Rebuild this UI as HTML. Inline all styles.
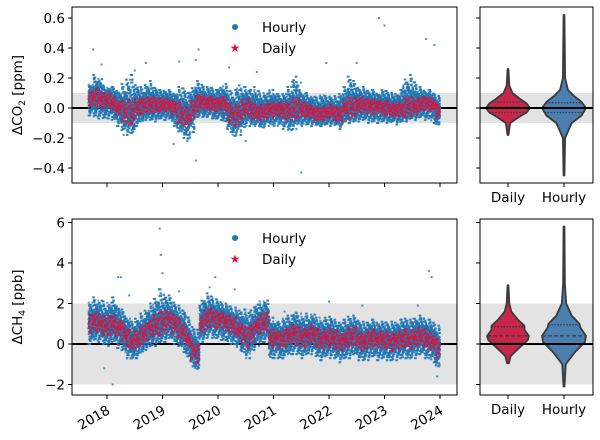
<!DOCTYPE html>
<html><head><meta charset="utf-8"><style>
body{margin:0;background:#fff}
svg{display:block;font-family:"DejaVu Sans","Liberation Sans",sans-serif}
</style></head><body>
<svg id="c" width="600" height="440" viewBox="0 0 600 440"></svg>
<script>
// ---- data (monthly, Sep 2017 .. Dec 2023) ----
const startYear = 2017 + 8/12;
const co2Daily = [0.06,0.07,0.06,0.05,
 0.05,0.03,0.0,-0.02,-0.03,-0.04,0.0,0.01,0.02,0.02,0.02,0.02,
 0.02,0.02,0.0,-0.03,-0.05,-0.06,-0.02,0.03,0.04,0.03,0.03,0.02,
 0.03,0.02,-0.03,-0.05,-0.04,-0.01,0.01,-0.02,-0.03,-0.03,-0.02,-0.01,
 -0.01,-0.01,-0.02,-0.02,-0.01,0.0,-0.01,-0.02,-0.03,-0.04,-0.04,-0.03,
 -0.02,-0.04,-0.04,0.0,0.0,0.01,0.02,0.02,0.01,0.01,0.01,0.0,
 0.0,-0.01,-0.01,-0.01,0.0,0.01,0.01,0.02,0.03,0.03,0.02,-0.02];
const co2Hi = [0.16,0.22,0.2,0.15,
 0.14,0.14,0.12,0.16,0.2,0.22,0.16,0.14,0.16,0.18,0.14,0.12,
 0.12,0.12,0.1,0.14,0.14,0.1,0.14,0.18,0.16,0.14,0.14,0.12,
 0.14,0.16,0.12,0.12,0.16,0.14,0.12,0.14,0.12,0.1,0.1,0.12,
 0.1,0.09,0.1,0.14,0.22,0.17,0.1,0.1,0.08,0.07,0.09,0.08,
 0.08,0.08,0.1,0.14,0.22,0.18,0.14,0.14,0.12,0.12,0.1,0.12,
 0.12,0.1,0.1,0.12,0.2,0.22,0.18,0.14,0.12,0.12,0.1,0.08];
const co2Lo = [-0.05,-0.07,-0.07,-0.08,
 -0.07,-0.09,-0.12,-0.16,-0.18,-0.18,-0.12,-0.1,-0.08,-0.09,-0.09,-0.08,
 -0.08,-0.08,-0.12,-0.17,-0.2,-0.22,-0.16,-0.07,-0.06,-0.07,-0.07,-0.08,
 -0.08,-0.1,-0.16,-0.2,-0.18,-0.14,-0.12,-0.12,-0.12,-0.14,-0.12,-0.12,
 -0.12,-0.12,-0.14,-0.16,-0.14,-0.12,-0.12,-0.12,-0.12,-0.12,-0.12,-0.12,
 -0.12,-0.12,-0.14,-0.1,-0.1,-0.1,-0.09,-0.09,-0.1,-0.1,-0.1,-0.1,
 -0.1,-0.1,-0.11,-0.1,-0.09,-0.08,-0.08,-0.07,-0.08,-0.08,-0.1,-0.12];
const ch4Daily = [1.0,1.1,1.0,0.9,
 0.9,1.0,0.8,0.6,0.3,0.1,0.2,0.4,0.6,0.8,0.9,1.0,
 1.1,1.2,1.0,0.8,0.6,0.2,-0.3,-0.5,1.0,1.2,1.3,1.2,
 1.2,1.1,1.0,0.9,0.7,0.5,0.3,0.6,0.9,1.0,1.1,0.3,
 0.3,0.2,0.3,0.4,0.5,0.4,0.3,0.4,0.5,0.3,0.2,0.3,
 0.3,0.2,0.1,0.2,0.3,0.4,0.2,0.1,0.2,0.3,0.2,0.2,
 0.2,0.1,0.2,0.2,0.3,0.2,0.3,0.4,0.3,0.2,0.1,-0.2];
const ch4Hi = [2.1,2.3,2.2,2.1,
 2.1,2.3,1.9,1.7,1.3,1.1,1.3,1.5,1.7,2.0,2.3,2.7,
 2.5,2.4,2.1,1.9,1.7,1.3,0.9,0.7,2.2,2.5,2.4,2.2,
 2.1,2.0,1.9,1.8,1.7,1.7,1.6,1.8,2.0,2.1,2.2,1.3,
 1.1,1.1,1.3,1.4,1.6,1.5,1.4,1.5,1.5,1.3,1.2,1.3,
 1.4,1.2,1.1,1.2,1.4,1.4,1.2,1.1,1.1,1.2,1.1,1.1,
 1.1,1.1,1.1,1.2,1.3,1.2,1.3,1.4,1.3,1.2,1.1,0.9];
const ch4Lo = [0.0,0.1,0.1,-0.1,
 -0.1,0.0,-0.2,-0.4,-0.7,-0.8,-0.7,-0.5,-0.3,-0.2,-0.1,0.0,
 0.1,0.2,0.0,-0.2,-0.4,-0.7,-1.1,-1.3,0.1,0.2,0.3,0.2,
 0.2,0.1,0.0,-0.1,-0.3,-0.5,-0.7,-0.4,-0.1,0.0,0.1,-0.8,
 -0.7,-0.8,-0.7,-0.6,-0.5,-0.6,-0.7,-0.6,-0.5,-0.7,-0.8,-0.7,
 -0.7,-0.8,-0.9,-0.8,-0.7,-0.6,-0.8,-0.9,-0.8,-0.7,-0.8,-0.8,
 -0.8,-0.9,-0.8,-0.8,-0.7,-0.8,-0.7,-0.6,-0.7,-0.8,-0.9,-1.2];
const co2Outliers = [[2017.75,0.39],[2017.9,0.29],[2018.5,0.25],[2018.7,0.3],[2019.3,0.31],[2019.6,0.32],[2019.65,0.39],[2019.2,-0.24],[2019.6,-0.35],[2020.5,-0.22],[2020.2,0.27],[2021.5,-0.43],[2021.95,0.3],[2022.9,0.6],[2023.0,0.55],[2023.75,0.46],[2023.9,0.42],[2018.3,-0.18],[2019.45,-0.22],[2020.7,0.24],[2022.5,0.3]];
const ch4Outliers = [[2017.95,-1.2],[2018.1,-2.0],[2018.2,3.3],[2018.25,3.3],[2018.95,5.7],[2018.97,4.4],[2019.0,3.5],[2019.95,3.3],[2019.85,2.8],[2020.3,2.7],[2022.0,2.1],[2022.6,1.9],[2023.6,1.9],[2023.8,3.6],[2023.85,3.3],[2023.95,-1.6],[2020.8,1.8],[2021.2,1.6],[2018.4,2.4],[2019.3,2.6]];
const xTickYears = [2018,2019,2020,2021,2022,2023,2024];
const co2Ticks = [-0.4,-0.2,0.0,0.2,0.4,0.6];
const co2TickLabels = ["\u22120.4","\u22120.2","0.0","0.2","0.4","0.6"];
const ch4Ticks = [-2,0,2,4,6];
const ch4TickLabels = ["\u22122","0","2","4","6"];
const violinCats = ["Daily","Hourly"];
const co2ViolinDaily = [[-0.18,0.02],[-0.1,0.1],[-0.06,0.5],[-0.03,0.85],[0.0,1.0],[0.03,0.85],[0.06,0.55],[0.1,0.2],[0.15,0.06],[0.26,0.02]];
const co2ViolinHourly = [[-0.45,0.02],[-0.2,0.05],[-0.1,0.35],[-0.05,0.8],[0.0,1.0],[0.04,0.8],[0.08,0.45],[0.12,0.18],[0.2,0.05],[0.62,0.02]];
const co2ViolinQ = [[-0.03,0.005,0.04],[-0.03,0.002,0.035]];
const ch4ViolinDaily = [[-0.95,0.04],[-0.6,0.12],[-0.2,0.5],[0.2,0.9],[0.4,0.95],[0.7,0.75],[0.9,0.75],[1.2,0.45],[1.6,0.15],[2.0,0.06],[2.9,0.02]];
const ch4ViolinHourly = [[-2.1,0.02],[-1.0,0.08],[-0.4,0.5],[0.1,0.95],[0.4,1.0],[0.8,0.75],[1.0,0.7],[1.4,0.35],[2.0,0.1],[3.0,0.04],[5.8,0.02]];
const ch4ViolinQ = [[0.05,0.4,0.85],[0.02,0.4,0.95]];

const NS="http://www.w3.org/2000/svg";
const svg=document.getElementById('c');
function el(t,a,p){const e=document.createElementNS(NS,t);for(const k in a)e.setAttribute(k,a[k]);(p||svg).appendChild(e);return e;}
const X0=72,X1=457, VX0=480,VX1=593;
const xs=y=>107+(y-2018)*55.5;
const panels=[
 {y0:7,y1:183,zero:108,per:150,band:0.1,daily:co2Daily,hi:co2Hi,lo:co2Lo,out:co2Outliers,ticks:co2Ticks,tl:co2TickLabels,vD:co2ViolinDaily,vH:co2ViolinHourly,q:co2ViolinQ,vw:22,name:'co2',lab:'CO',leg:27},
 {y0:219,y1:395,zero:344,per:20.25,band:2,daily:ch4Daily,hi:ch4Hi,lo:ch4Lo,out:ch4Outliers,ticks:ch4Ticks,tl:ch4TickLabels,vD:ch4ViolinDaily,vH:ch4ViolinHourly,q:ch4ViolinQ,vw:22,name:'ch4',lab:'CH',leg:238}
];
const pat=[0,0.3,-0.25,0.55,-0.5,0.12,-0.1,0.8,-0.75,0.4,-0.35,0.2,-0.18,0.65,-0.6,0.05,-0.05,0.95,-0.9,0.48,-0.42,0.28,-0.3,0.7,-0.68,0.15,-0.14,0.35,-0.45,0.58,1.0,-1.0,0.88,-0.85];
panels.forEach((P,pi)=>{
 const ys=v=>P.zero-v*P.per;
 const g=el('g',{});  
 const cp=el('clipPath',{id:'cp'+pi},g); el('rect',{x:X0,y:P.y0,width:X1-X0,height:P.y1-P.y0},cp);
 const b=el('rect',{x:X0,y:ys(P.band),width:X1-X0,height:ys(-P.band)-ys(P.band),fill:'#e3e3e3'},g);
  
 const z=el('line',{x1:X0,x2:X1,y1:ys(0),y2:ys(0),stroke:'#000','stroke-width':2},g);
  
 const hg=el('g',{fill:'#1f77b4','fill-opacity':0.8,'clip-path':'url(#cp'+pi+')'},g);
  
 const dx=55.5/12;
 P.daily.forEach((m,i)=>{
  const xm=xs(startYear+i/12);
  for(let k=0;k<160;k++){
   const t=pat[(k*7+i)%pat.length]*(0.55+0.45*((k%4)/3));
   const v=t>=0?m+t*(P.hi[i]-m):m+t*(m-P.lo[i]);
   el('rect',{x:xm+((k*37+i*11)%100)/100*dx-1,y:ys(v)-1,width:2,height:2},hg);
  }
 });
 P.out.forEach(o=>{el('rect',{x:xs(o[0])-1,y:ys(o[1])-1,width:2,height:2},hg);});
 const dg=el('g',{fill:'#dc143c'},g);
  
 P.daily.forEach((m,i)=>{
  const xm=xs(startYear+i/12);
  const sp=(P.hi[i]-P.lo[i])*0.28;
  for(let k=0;k<22;k++){
   const v=m+pat[(k*11+i*3)%pat.length]*sp*0.8;
   el('rect',{x:xm+k/22*dx-0.8,y:ys(v)-0.8,width:1.7,height:1.7},dg);
  }
 });
 el('rect',{x:X0,y:P.y0,width:X1-X0,height:P.y1-P.y0,fill:'none',stroke:'#000','stroke-width':1},g);
 P.ticks.forEach((t,i)=>{
  el('line',{x1:X0-4,x2:X0,y1:ys(t),y2:ys(t),stroke:'#000'},g);
  const tx=el('text',{x:X0-7,y:ys(t)+5,'text-anchor':'end','font-size':13.5},g); tx.textContent=P.tl[i];
   
  el('line',{x1:VX0-4,x2:VX0,y1:ys(t),y2:ys(t),stroke:'#000'},g);
 });
 xTickYears.forEach(yr=>{
  el('line',{x1:xs(yr),x2:xs(yr),y1:P.y1,y2:P.y1+4,stroke:'#000'},g);
  if(pi==1){const tx=el('text',{x:xs(yr)+4,y:P.y1+18,'text-anchor':'end','font-size':13.5,transform:`rotate(-30 ${xs(yr)+4} ${P.y1+18})`},g);tx.textContent=yr;
    }
 });
 const yl=el('text',{transform:`translate(22 ${(P.y0+P.y1)/2}) rotate(-90)`,'text-anchor':'middle','font-size':13.5},g);
 yl.innerHTML='\u0394'+P.lab+'<tspan font-size="9" dy="3">'+(pi?'4':'2')+'</tspan><tspan dy="-3"> '+(pi?'[ppb]':'[ppm]')+'</tspan>';
  
 const lg=el('g',{},g);  
 el('circle',{cx:235,cy:P.leg,r:3,fill:'#1f77b4'},lg);
 let t1=el('text',{x:262,y:P.leg+5,'font-size':13.5},lg); t1.textContent='Hourly';
 el('text',{x:235,y:P.leg+25,'text-anchor':'middle','font-size':12,fill:'#dc143c'},lg).textContent='\u2605';
 let t2=el('text',{x:262,y:P.leg+26,'font-size':13.5},lg); t2.textContent='Daily';
 const vg=el('g',{},g);  
 el('rect',{x:VX0,y:ys(P.band),width:VX1-VX0,height:ys(-P.band)-ys(P.band),fill:'#e3e3e3'},vg);
 const cx=[508,564];
 [P.vD,P.vH].forEach((prof,j)=>{
  let d='M'+cx[j]+','+ys(prof[0][0]);
  prof.forEach(p=>{d+=' L'+(cx[j]+p[1]*P.vw)+','+ys(p[0]);});
  for(let k=prof.length-1;k>=0;k--) d+=' L'+(cx[j]-prof[k][1]*P.vw)+','+ys(prof[k][0]);
  const v=el('path',{d:d+'Z',fill:j?'#4a7fb0':'#c8264a',stroke:'#3a3a3a','stroke-width':1.8,'stroke-linejoin':'round'},vg);
   
  P.q[j].forEach((q,k)=>{
   let w=0;for(let i=0;i<prof.length-1;i++){if(q>=prof[i][0]&&q<=prof[i+1][0]){const f=(q-prof[i][0])/(prof[i+1][0]-prof[i][0]);w=prof[i][1]+f*(prof[i+1][1]-prof[i][1]);}}
   el('line',{x1:cx[j]-w*P.vw,x2:cx[j]+w*P.vw,y1:ys(q),y2:ys(q),stroke:'#3a3a3a','stroke-width':1.3,'stroke-dasharray':k==1?'4,2':'1.5,1.5'},vg);
  });
 });
 el('line',{x1:VX0,x2:VX1,y1:ys(0),y2:ys(0),stroke:'#000','stroke-width':2},vg);
 el('rect',{x:VX0,y:P.y0,width:VX1-VX0,height:P.y1-P.y0,fill:'none',stroke:'#000'},vg);
 cx.forEach((c,j)=>{el('line',{x1:c,x2:c,y1:P.y1,y2:P.y1+4,stroke:'#000'},vg);
  const t=el('text',{x:c,y:P.y1+19,'text-anchor':'middle','font-size':13.5},vg);t.textContent=violinCats[j];
   });
});
</script>
</body></html>
